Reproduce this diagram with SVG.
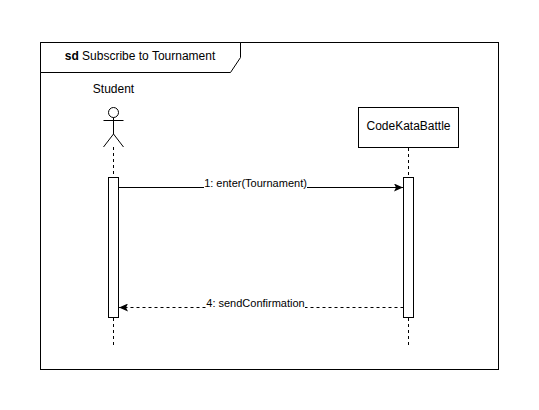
<svg xmlns="http://www.w3.org/2000/svg" width="539" height="410" viewBox="0 0 539 410">
<style>
text{font-family:"Liberation Sans",Arial,Helvetica,sans-serif;fill:#000;text-anchor:middle}
.s{font-size:12px}
.m{font-size:11px}
.b{fill:#fff;stroke:#000;stroke-width:1}
.l{fill:none;stroke:#000;stroke-width:1}
.d{fill:none;stroke:#000;stroke-width:1;stroke-dasharray:3 3}
</style>
<defs>
<marker id="arrow" markerUnits="userSpaceOnUse" markerWidth="10" markerHeight="8" refX="9" refY="4" orient="auto">
<path d="M0 0L9 4L0 8L2 4Z" fill="#000"/>
</marker>
</defs>
<rect width="539" height="410" fill="#fff"/>
<g id="frame">
<rect class="b" x="40.5" y="42.5" width="458" height="327"/>
<path class="b" d="M40.5 42.5H240.5V57.5L230.5 72.5H40.5Z"/>
<text class="s" x="140" y="60"><tspan font-weight="bold">sd</tspan> Subscribe to Tournament</text>
</g>
<g id="connectors">
<path class="d" d="M113.5 147V177"/>
<path class="d" d="M113.5 318V348"/>
<path class="d" d="M408.5 148V177"/>
<path class="d" d="M408.5 318V348"/>
<path class="l" d="M118.5 187.500H403" marker-end="url(#arrow)"/>
<path class="d" d="M403.500 307.500H119" marker-end="url(#arrow)"/>
</g>
<g id="student">
<text class="s" x="113.500" y="93">Student</text>
<circle class="l" cx="113.500" cy="112.500" r="5"/>
<path class="l" d="M113.500 117.500V134M103.500 120.500H123.500M103.500 147L113.500 134L123.500 147"/>
</g>
<g id="student-activation">
<rect class="b" x="108.500" y="177.500" width="10" height="140"/>
</g>
<g id="codekatabattle">
<rect class="b" x="358.500" y="107.500" width="100" height="40"/>
<text class="s" x="408.500" y="130">CodeKataBattle</text>
</g>
<g id="codekatabattle-activation">
<rect class="b" x="403.500" y="177.500" width="10" height="140"/>
</g>
<g id="labels">
<rect x="204" y="179" width="103" height="12" fill="#fff"/>
<text class="m" x="255.500" y="187">1: enter(Tournament)</text>
<rect x="206" y="299" width="99" height="12" fill="#fff"/>
<text class="m" x="255.500" y="307">4: sendConfirmation</text>
</g>
</svg>
